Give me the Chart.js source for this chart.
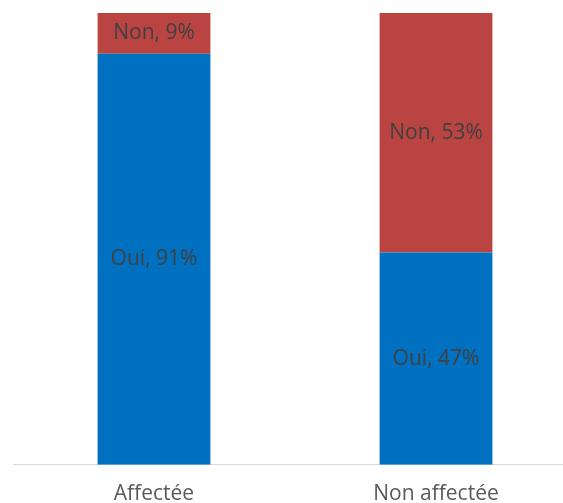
<!DOCTYPE html>
<html>
<head>
<meta charset="utf-8">
<script src="https://cdn.jsdelivr.net/npm/chart.js@4/dist/chart.umd.min.js"></script>
<style>
  html, body { margin: 0; padding: 0; background: #fff; overflow: hidden; }
  #wrap { width: 577px; height: 524px; position: relative; }
</style>
</head>
<body>
<div id="wrap"><canvas id="c"></canvas></div>
<script>
const categories = ['Affectée', 'Non affectée'];
const seriesNames = ['Oui', 'Non'];
const ouiValues = [91, 47];
const nonValues = [9, 53];

const FONT = '"Open Sans", sans-serif';

// Writes "Series, value%" in the middle of each stacked segment
const labelPlugin = {
  id: 'segmentLabels',
  afterDatasetsDraw(chart) {
    const ctx = chart.ctx;
    ctx.save();
    ctx.font = '21px ' + FONT;
    ctx.fillStyle = '#404040';
    ctx.textAlign = 'center';
    ctx.textBaseline = 'middle';
    chart.data.datasets.forEach((ds, di) => {
      chart.getDatasetMeta(di).data.forEach((bar, i) => {
        const y = (bar.y + bar.base) / 2;
        ctx.fillText(ds.label + ', ' + ds.data[i] + '%', bar.x, y);
      });
    });
    ctx.restore();
  }
};

new Chart(document.getElementById('c'), {
  type: 'bar',
  data: {
    labels: categories,
    datasets: [
      { label: seriesNames[0], data: ouiValues, backgroundColor: '#0070C0' },
      { label: seriesNames[1], data: nonValues, backgroundColor: '#B94441' }
    ]
  },
  options: {
    responsive: true,
    maintainAspectRatio: false,
    animation: false,
    layout: { padding: { top: 13, left: 13, right: 0, bottom: 0 } },
    plugins: { legend: { display: false }, tooltip: { enabled: false } },
    datasets: { bar: { categoryPercentage: 1, barPercentage: 0.4 } },
    scales: {
      x: {
        stacked: true,
        grid: { display: false, drawTicks: false },
        border: { display: true, color: '#D9D9D9', width: 1 },
        ticks: { color: '#595959', font: { size: 21, family: FONT }, padding: 17 }
      },
      y: {
        stacked: true,
        display: false,
        min: 0,
        max: 100
      }
    }
  },
  plugins: [labelPlugin]
});
</script>
</body>
</html>
